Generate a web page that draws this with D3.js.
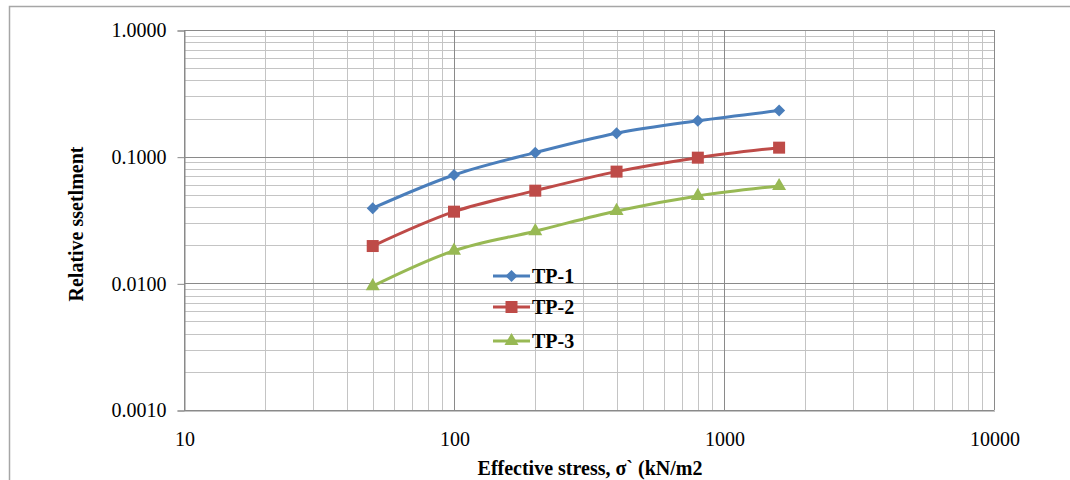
<!DOCTYPE html>
<html>
<head>
<meta charset="utf-8">
<script src="https://cdn.jsdelivr.net/npm/d3@7"></script>
<style>
  body { margin: 0; background: #fff; }
  svg { display: block; }
</style>
</head>
<body>
<svg id="chart" width="1070" height="480"></svg>
<script>
// data
const stress = [50, 100, 200, 400, 800, 1600];
const tp1 = [0.0392, 0.0717, 0.1076, 0.153, 0.192, 0.231];
const tp2 = [0.0197, 0.0368, 0.0539, 0.0762, 0.0982, 0.1178];
const tp3 = [0.0095, 0.0181, 0.0258, 0.0373, 0.0490, 0.0587];
const seriesNames = ["TP-1", "TP-2", "TP-3"];
const xTicks = [10, 100, 1000, 10000];
const yTicks = [0.001, 0.01, 0.1, 1];

const colors = ["#4a7ebb", "#be4b48", "#98b954"];
const margin = { left: 184, top: 30, right: 76, bottom: 70 }; // plot area inside 1070x480
const W = 1070, H = 480;
const serif = "'Liberation Serif', 'Times New Roman', serif";

const svg = d3.select("#chart");

// outer chart border
svg.append("rect")
    .attr("x", 9.5).attr("y", 6.5)
    .attr("width", W + 20).attr("height", H + 20)
    .attr("fill", "none").attr("stroke", "#a6a6a6").attr("stroke-width", 1.5);

const x = d3.scaleLog().domain([10, 10000]).range([margin.left, W - margin.right]);
const y = d3.scaleLog().domain([0.001, 1]).range([H - margin.bottom, margin.top]);

// minor grid (2..9 of every decade)
const minorX = [], minorY = [];
for (const d of [10, 100, 1000]) for (let k = 2; k < 10; k++) minorX.push(d * k);
for (const d of [0.001, 0.01, 0.1]) for (let k = 2; k < 10; k++) minorY.push(d * k);

const grid = svg.append("g");
grid.selectAll(".mx").data(minorX).join("line")
    .attr("x1", d => Math.round(x(d)) + 0.5).attr("x2", d => Math.round(x(d)) + 0.5)
    .attr("y1", y(0.001)).attr("y2", y(1))
    .attr("stroke", "#c4c4c4").attr("stroke-width", 1);
grid.selectAll(".my").data(minorY).join("line")
    .attr("y1", d => Math.round(y(d)) + 0.5).attr("y2", d => Math.round(y(d)) + 0.5)
    .attr("x1", x(10)).attr("x2", x(10000))
    .attr("stroke", "#c4c4c4").attr("stroke-width", 1);
grid.selectAll(".Mx").data(xTicks).join("line")
    .attr("x1", d => Math.round(x(d)) + 0.5).attr("x2", d => Math.round(x(d)) + 0.5)
    .attr("y1", y(0.001)).attr("y2", y(1))
    .attr("stroke", "#8a8a8a").attr("stroke-width", 1);
grid.selectAll(".My").data(yTicks).join("line")
    .attr("y1", d => Math.round(y(d)) + 0.5).attr("y2", d => Math.round(y(d)) + 0.5)
    .attr("x1", x(10)).attr("x2", x(10000))
    .attr("stroke", "#8a8a8a").attr("stroke-width", 1);

// y axis
const yAxis = svg.append("g")
    .attr("transform", `translate(${x(10) + 0.5},0.5)`)
    .call(d3.axisLeft(y).tickValues(yTicks).tickFormat(d3.format(".4f")).tickSize(7).tickPadding(11))
    .call(g => g.select(".domain").attr("stroke", "#8a8a8a"));
yAxis.selectAll(".tick line").attr("stroke", "#8a8a8a");
yAxis.attr("font-family", serif).attr("font-size", 20);
yAxis.selectAll("text").attr("fill", "#000");

// x axis (labels only)
const xAxis = svg.append("g")
    .attr("transform", `translate(0.5,${y(0.001) + 0.5})`)
    .call(d3.axisBottom(x).tickValues(xTicks).tickFormat(d3.format("d")).tickSize(0).tickPadding(21))
    .call(g => g.select(".domain").attr("stroke", "#8a8a8a"));
xAxis.attr("font-family", serif).attr("font-size", 20);
xAxis.selectAll("text").attr("fill", "#000");

// axis titles
svg.append("text")
    .attr("transform", `translate(83,224) rotate(-90)`)
    .attr("text-anchor", "middle")
    .attr("font-family", serif)
    .attr("font-weight", "bold").attr("font-size", 20)
    .text("Relative ssetlment");
svg.append("text")
    .attr("x", 590).attr("y", 475)
    .attr("text-anchor", "middle")
    .attr("font-family", serif)
    .attr("font-weight", "bold").attr("font-size", 20)
    .text("Effective stress, σ` (kN/m2");

// series
const series = [tp1, tp2, tp3].map((vals, i) => ({
    name: seriesNames[i],
    color: colors[i],
    points: stress.map((s, j) => [s, vals[j]])
}));
const symbols = [d3.symbolSquare, d3.symbolSquare, d3.symbolTriangle];
const symSizes = [72, 144, 85];
const symRot = [45, 0, 0];

const line = d3.line()
    .x(d => x(d[0])).y(d => y(d[1]))
    .curve(d3.curveCatmullRom.alpha(0.5));

const sg = svg.append("g").selectAll("g").data(series).join("g");
sg.append("path")
    .attr("d", d => line(d.points))
    .attr("fill", "none")
    .attr("stroke", d => d.color)
    .attr("stroke-width", 3);
sg.each(function(d, i) {
    d3.select(this).selectAll("path.m").data(d.points).join("path")
        .attr("class", "m")
        .attr("transform", p => `translate(${x(p[0])},${y(p[1])}) rotate(${symRot[i]})`)
        .attr("d", d3.symbol(symbols[i], symSizes[i]))
        .attr("fill", d.color);
});

// legend
const legendY = [276, 307, 341];
const lg = svg.append("g").selectAll("g").data(series).join("g")
    .attr("transform", (d, i) => `translate(493,${legendY[i]})`);
lg.append("line")
    .attr("x1", 0).attr("x2", 37)
    .attr("stroke", d => d.color).attr("stroke-width", 3);
lg.append("path")
    .attr("transform", (d, i) => `translate(18.5,0) rotate(${symRot[i]})`)
    .attr("d", (d, i) => d3.symbol(symbols[i], symSizes[i])())
    .attr("fill", d => d.color);
lg.append("text")
    .attr("x", 39).attr("y", 7)
    .attr("font-family", serif)
    .attr("font-weight", "bold").attr("font-size", 20)
    .text(d => d.name);
</script>
</body>
</html>
